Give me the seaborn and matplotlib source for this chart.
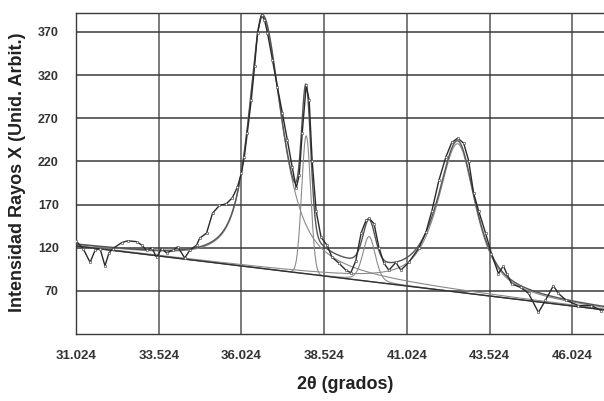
import numpy as np
import pandas as pd
import matplotlib
matplotlib.use("Agg")
import matplotlib.pyplot as plt
import seaborn as sns

# ---- data ----
x_raw = [31.02, 31.24, 31.45, 31.60, 31.75, 31.90, 32.02, 32.14, 32.41, 32.59,
         32.86, 33.01, 33.16, 33.31, 33.46, 33.61, 33.76, 33.95, 34.10, 34.31,
         34.46, 34.67, 34.76, 34.97, 35.15, 35.36, 35.57, 35.75, 35.90, 36.02,
         36.11, 36.20, 36.32, 36.42, 36.51, 36.63, 36.72, 36.81, 36.96, 37.11,
         37.26, 37.41, 37.56, 37.68, 37.77, 37.86, 37.98, 38.07, 38.16, 38.28,
         38.43, 38.61, 38.76, 38.97, 39.18, 39.33, 39.48, 39.64, 39.79, 39.88,
         40.03, 40.18, 40.33, 40.48, 40.69, 40.84, 41.08, 41.39, 41.60, 41.78,
         41.99, 42.20, 42.38, 42.56, 42.74, 42.89, 43.04, 43.19, 43.40, 43.58,
         43.79, 43.94, 44.04, 44.19, 44.46, 44.70, 45.00, 45.21, 45.45, 45.60,
         45.84, 46.20, 46.59, 46.90]
y_raw = [128, 119, 103, 117, 119, 99, 114, 119, 126, 128,
         127, 123, 117, 120, 109, 119, 114, 117, 121, 108,
         117, 123, 131, 137, 160, 169, 171, 178, 190, 206,
         225, 253, 291, 330, 369, 390, 384, 369, 338, 306,
         276, 245, 213, 189, 204, 253, 308, 291, 221, 163,
         132, 123, 109, 102, 94, 91, 105, 137, 152, 154,
         148, 120, 102, 94, 103, 94, 103, 120, 138, 163,
         198, 225, 242, 247, 241, 221, 183, 163, 137, 113,
         90, 99, 90, 78, 74, 67, 45, 59, 76, 67,
         59, 53, 53, 47]

# linear background (two end points)
base_x = [31.024, 46.98]
base_y = [122, 48]

# fitted peaks (split pseudo-Voigt parameters)
peak_center = [36.66, 37.98, 39.88, 42.56]
peak_height = [292, 160, 52, 172]
peak_fwhm_left = [1.00, 0.32, 0.45, 1.45]
peak_fwhm_right = [1.40, 0.32, 0.45, 1.30]
peak_eta = [0.8, 0.0, 0.3, 0.8]

x_ticks = [31.024, 33.524, 36.024, 38.524, 41.024, 43.524, 46.024]
x_ticklabels = ["31.024", "33.524", "36.024", "38.524", "41.024", "43.524", "46.024"]
y_ticks = [70, 120, 170, 220, 270, 320, 370]

# ---- model evaluation ----
xg = np.linspace(base_x[0], base_x[1], 900)
bg = np.interp(xg, base_x, base_y)


def pv(x, c, h, wl, wr, eta):
    w = np.where(x < c, wl, wr)
    d2 = ((x - c) / w) ** 2
    g = np.exp(-4 * np.log(2) * d2)
    l = 1.0 / (1.0 + 4 * d2)
    return h * (eta * l + (1 - eta) * g)


comps = [pv(xg, c, h, wl, wr, e) for c, h, wl, wr, e in
         zip(peak_center, peak_height, peak_fwhm_left, peak_fwhm_right, peak_eta)]
total = bg + np.sum(comps, axis=0)

# ---- figure ----
sns.set_theme(style="white")
plt.rcParams["font.family"] = ["Liberation Sans", "DejaVu Sans"]
plt.rcParams["font.weight"] = "bold"

fig = plt.figure(figsize=(6.04, 4.01), dpi=100)
ax = fig.add_axes([76 / 604, 1 - 334 / 401, 1 - 76 / 604, (334 - 13) / 401])

for xt in x_ticks:
    ax.axvline(xt, color="#7a7a7a", lw=1.4, zorder=0)
for yt in y_ticks:
    ax.axhline(yt, color="#3a3a3a", lw=1.1, zorder=0)

# components
for comp in comps:
    sns.lineplot(x=xg, y=bg + comp, ax=ax, color="#8a8a8a", lw=0.8, zorder=2)
# background
sns.lineplot(x=base_x, y=base_y, ax=ax, color="#303030", lw=1.0, zorder=3)
# total fit
sns.lineplot(x=xg, y=total, ax=ax, color="#555555", lw=1.0, zorder=3)
# raw data
df = pd.DataFrame({"x": x_raw, "y": y_raw})
sns.lineplot(data=df, x="x", y="y", ax=ax, color="#2a2a2a", lw=1.0, zorder=4,
             marker="o", markersize=1.8, markerfacecolor="white",
             markeredgecolor="#3a3a3a", markeredgewidth=0.4)

ax.set_xlim(31.024, 46.98)
ax.set_ylim(20, 392)
ax.set_xticks(x_ticks)
ax.set_xticklabels(x_ticklabels)
ax.set_yticks(y_ticks)
ax.tick_params(axis="x", labelsize=9.5, colors="#333333",
               direction="inout", length=5, width=0.8, pad=9)
ax.tick_params(axis="y", labelsize=9, colors="#333333",
               direction="inout", length=5, width=0.8, pad=10)
for lab in ax.get_xticklabels() + ax.get_yticklabels():
    lab.set_fontweight("bold")

for s in ["left", "bottom", "top"]:
    ax.spines[s].set_color("#3a3a3a")
    ax.spines[s].set_linewidth(1.0)
ax.spines["right"].set_visible(False)

ax.set_xlabel("2θ (grados)", fontsize=13, fontweight="bold", color="#222222")
ax.set_ylabel("Intensidad Rayos X (Unid. Arbit.)", fontsize=13,
              fontweight="bold", color="#222222")
ax.xaxis.set_label_coords(0.51, -0.132)
ax.yaxis.set_label_coords(-0.094, 0.505)

fig.savefig("out.png", dpi=100)
